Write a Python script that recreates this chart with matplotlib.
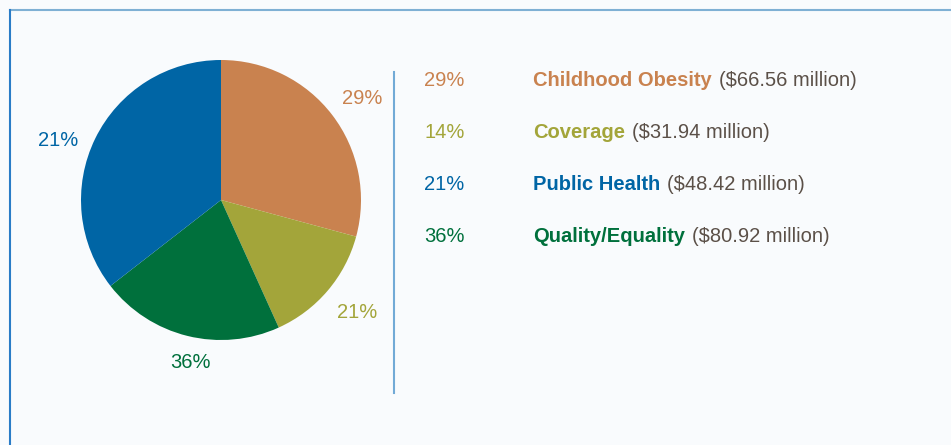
import matplotlib.pyplot as plt
from matplotlib.lines import Line2D

# data
categories = ["Childhood Obesity", "Coverage", "Public Health", "Quality/Equality"]
amounts = [66.56, 31.94, 48.42, 80.92]  # $ million
pct_labels = ["29%", "14%", "21%", "36%"]
legend_colors = ["#c9824f", "#a3a53a", "#0065a5", "#00703c"]
# the pie in the source graphic uses its own colour order and labels
pie_colors = ["#c9824f", "#a3a53a", "#00703c", "#0065a5"]
pie_labels = ["29%", "21%", "36%", "21%"]

W, H = 951, 445
plt.rcParams["font.family"] = ["Liberation Sans", "DejaVu Sans"]
FS = 14.5

fig = plt.figure(figsize=(W / 100, H / 100), dpi=100, facecolor="#f9fbfd")
ax = fig.add_axes([0, 0, 1, 1])
ax.axis("off")

# frame lines (top and left)
ax.add_line(Line2D([10, W], [H - 10, H - 10], color="#7fb0d4", lw=1.5))
ax.add_line(Line2D([10, 10], [0, H - 10], color="#2a7cc7", lw=1.5))

# pie, drawn in pixel-sized data units, clockwise from 12 o'clock
ax.pie(amounts, colors=pie_colors, startangle=90, counterclock=False,
       center=(221, H - 200), radius=140, wedgeprops=dict(linewidth=0))
ax.set_xlim(0, W)
ax.set_ylim(0, H)
ax.set_aspect("equal")

# slice labels
label_pos = [(362, 97), (357, 310), (190, 360), (58, 139)]
for txt, (x, y), c in zip(pie_labels, label_pos, pie_colors):
    ax.text(x, H - y - 2, txt, color=c, fontsize=FS, ha="center", va="center")

# divider
ax.add_line(Line2D([394, 394], [H - 72, H - 393], color="#72aad6", lw=1.5))

# legend rows
row_y = [78, 130, 183, 235]
renderer = fig.canvas.get_renderer()
for cat, amt, pct, c, y in zip(categories, amounts, pct_labels, legend_colors, row_y):
    yy = H - y - 2
    ax.text(424, yy, pct, color=c, fontsize=FS, ha="left", va="center")
    t = ax.text(533, yy, cat, color=c, fontsize=FS, fontweight="bold",
                ha="left", va="center")
    bb = t.get_window_extent(renderer)
    ax.text(bb.x1 + 7, yy, f"(${amt:.2f} million)", color="#5b5048",
            fontsize=FS, ha="left", va="center")

fig.savefig("out.png", dpi=100, facecolor=fig.get_facecolor())
